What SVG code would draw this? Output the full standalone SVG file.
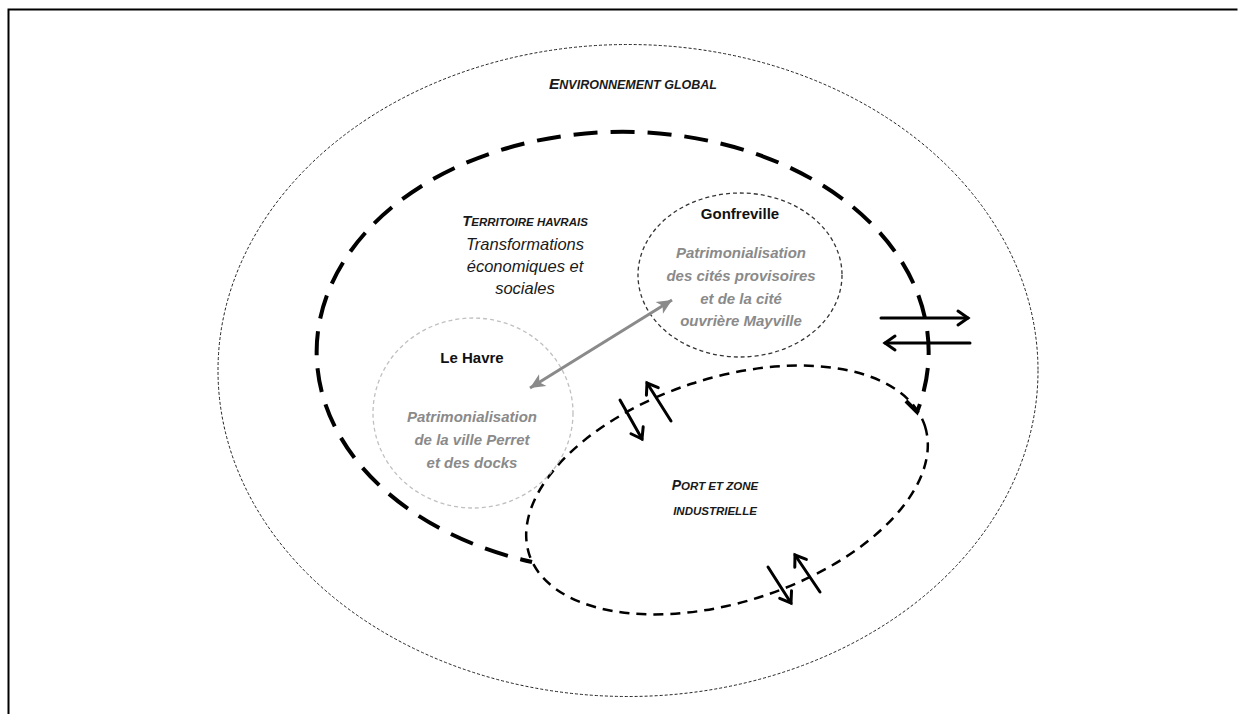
<svg xmlns="http://www.w3.org/2000/svg" width="1245" height="714" viewBox="0 0 1245 714">
<style>
.sc{font-family:"Liberation Sans",Arial,sans-serif;font-weight:bold;font-style:italic;fill:#1a1a1a;text-anchor:middle}
.it{font-family:"Liberation Sans",Arial,sans-serif;font-style:italic;fill:#1a1a1a;text-anchor:middle;font-size:16.5px}
.nm{font-family:"Liberation Sans",Arial,sans-serif;font-weight:bold;fill:#111;text-anchor:middle;font-size:15px}
.gr{font-family:"Liberation Sans",Arial,sans-serif;font-weight:bold;font-style:italic;fill:#8a8a8a;text-anchor:middle;font-size:15px}
.bk{stroke:#000;stroke-width:3;fill:none;stroke-linecap:round}
</style>
<defs>
<marker id="open" markerUnits="userSpaceOnUse" viewBox="-14 -10 18 20" markerWidth="18" markerHeight="20" refX="0" refY="0" orient="auto" overflow="visible">
<path d="M-10,-7 L0,0 L-10,7" fill="none" stroke="#000" stroke-width="3" stroke-linecap="round" stroke-linejoin="miter"/>
</marker>
<marker id="gtri" markerUnits="userSpaceOnUse" viewBox="-16 -9 18 18" markerWidth="18" markerHeight="18" refX="0" refY="0" orient="auto-start-reverse" overflow="visible">
<path d="M-15,-7 L0,0 L-15,7 L-11,0 Z" fill="#8a8a8a"/>
</marker>
</defs>
<rect width="1245" height="714" fill="#fff"/>
<path d="M8.5,714 V9.5 H1237.5" fill="none" stroke="#000" stroke-width="2"/>

<g id="environnement">
<ellipse cx="628" cy="370.5" rx="410" ry="326" fill="none" stroke="#222" stroke-width="1" stroke-dasharray="3 2"/>
<text class="sc" x="633" y="89"><tspan font-size="15.5">E</tspan><tspan font-size="12.5">NVIRONNEMENT GLOBAL</tspan></text>
</g>

<g id="territoire">
<path d="M906,401 L917,412 A306 220 0 1 0 532,562 L512,557" fill="none" stroke="#000" stroke-width="4" stroke-dasharray="24 13"/>
<text class="sc" x="525" y="226"><tspan font-size="15">T</tspan><tspan font-size="11.5">ERRITOIRE HAVRAIS</tspan></text>
<text class="it" x="525" y="250">Transformations</text>
<text class="it" x="525" y="272">économiques et</text>
<text class="it" x="525" y="294">sociales</text>
</g>

<g id="port">
<ellipse cx="727" cy="490" rx="208" ry="112" transform="rotate(-18 727 490)" fill="none" stroke="#000" stroke-width="2.5" stroke-dasharray="10 7"/>
<text class="sc" x="715" y="490"><tspan font-size="14">P</tspan><tspan font-size="11.5">ORT ET ZONE</tspan></text>
<text class="sc" x="715" y="515" font-size="11.5">INDUSTRIELLE</text>
</g>

<g id="gonfreville">
<ellipse cx="740" cy="275" rx="102" ry="82" fill="none" stroke="#333" stroke-width="1.3" stroke-dasharray="4 3"/>
<text class="nm" x="740" y="219">Gonfreville</text>
<text class="gr" x="741" y="258">Patrimonialisation</text>
<text class="gr" x="741" y="281">des cités provisoires</text>
<text class="gr" x="741" y="304">et de la cité</text>
<text class="gr" x="741" y="326">ouvrière Mayville</text>
</g>

<g id="lehavre">
<ellipse cx="473" cy="413" rx="100" ry="95" fill="none" stroke="#c0c0c0" stroke-width="1.3" stroke-dasharray="4 3"/>
<text class="nm" x="472" y="363">Le Havre</text>
<text class="gr" x="472" y="422">Patrimonialisation</text>
<text class="gr" x="472" y="445">de la ville Perret</text>
<text class="gr" x="472" y="468">et des docks</text>
</g>

<g id="connectors">
<line x1="530" y1="388" x2="672" y2="300" stroke="#8a8a8a" stroke-width="3" marker-start="url(#gtri)" marker-end="url(#gtri)"/>
<line class="bk" x1="881" y1="318" x2="968" y2="318" marker-end="url(#open)"/>
<line class="bk" x1="970" y1="343" x2="885" y2="343" marker-end="url(#open)"/>
<line class="bk" x1="620" y1="400" x2="642" y2="439" marker-end="url(#open)"/>
<line class="bk" x1="671" y1="421" x2="647" y2="383" marker-end="url(#open)"/>
<line class="bk" x1="768" y1="567" x2="791" y2="603" marker-end="url(#open)"/>
<line class="bk" x1="820" y1="592" x2="795" y2="555" marker-end="url(#open)"/>
</g>
</svg>
